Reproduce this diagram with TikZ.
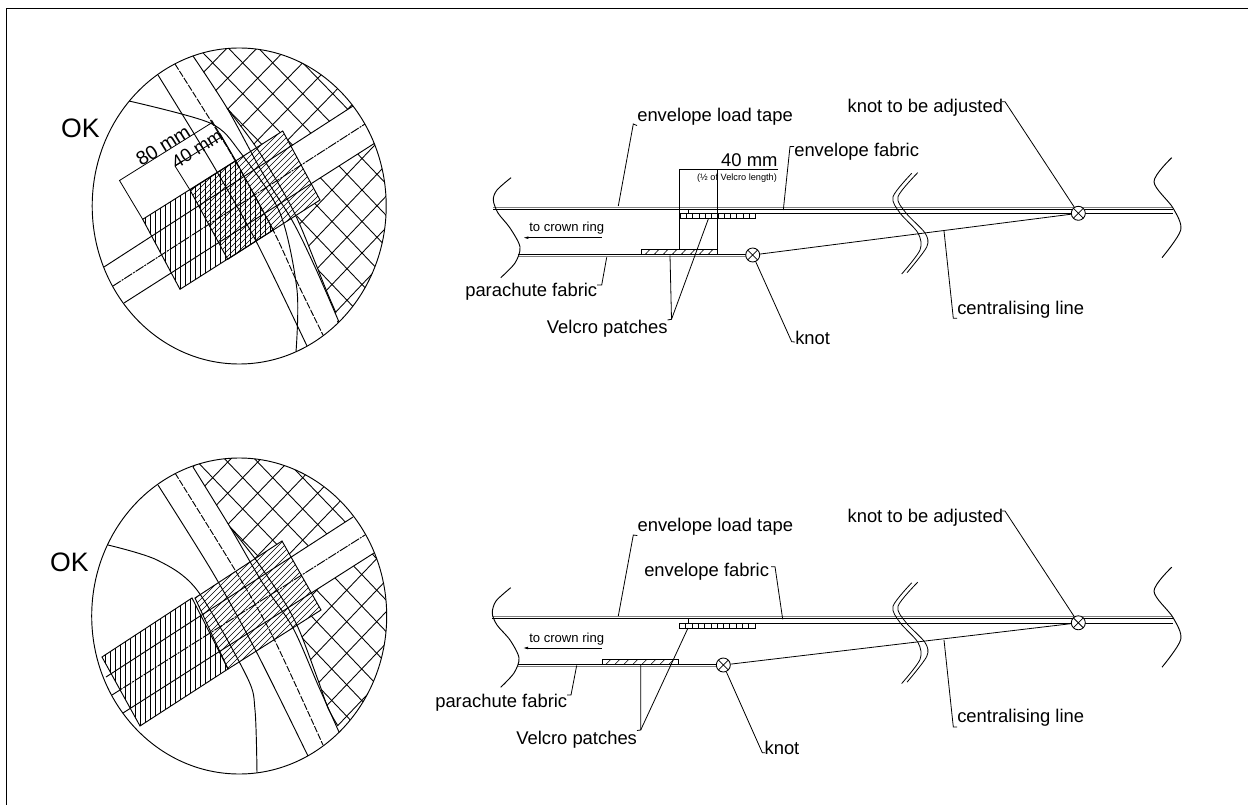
\documentclass[tikz,border=0pt]{standalone}
\usepackage{fontspec}
\setmainfont{Liberation Sans}
\usetikzlibrary{arrows.meta}

\tikzset{
  lbl/.style={font=\fontsize{13.8}{15}\selectfont, inner sep=0pt, anchor=west},
  smalllbl/.style={font=\fontsize{9.8}{11}\selectfont, inner sep=0pt, anchor=west},
  leader/.style={line width=0.6pt},
  tape/.style={line width=0.7pt},
  mesh/.style={line width=0.65pt},
  hatchline/.style={line width=0.45pt},
  knot/.style={circle, draw, line width=0.65pt, fill=white, minimum size=10.5pt, inner sep=0pt,
    path picture={\draw[line width=0.55pt] (path picture bounding box.north west) -- (path picture bounding box.south east)
      (path picture bounding box.north east) -- (path picture bounding box.south west);}},
  patch/.style={line width=0.7pt}
}

\begin{document}
\begin{tikzpicture}[x=0.75pt, y=-0.75pt]
    \useasboundingbox (0,0) rectangle (1248,805);
    % Frame
    \draw[line width=0.8pt] (6.5,805) -- (6.5,8.5) -- (1248,8.5);

    % Top detail circle
    \begin{scope}
        \clip (239.2,206) ellipse (147 and 158);
        % mesh above the band
        \begin{scope}
            \clip (193,50) -- (193,56) -- (227,108) -- (256,147) -- (270,160) -- (353,106) -- (420,60) -- (420,30) -- cycle;
            \foreach \k in {-14,...,14} {
                \draw[mesh] (257.7+30*\k-300,78.3-309) -- (257.7+30*\k+300,78.3+309);
                \draw[mesh] (257.7+30*\k-300,78.3+309) -- (257.7+30*\k+300,78.3-309);
            }
        \end{scope}
        % mesh below the band
        \begin{scope}
            \clip (420,115) -- (375,143) -- (290,197) -- (300,225) -- (315,262) -- (327,292) -- (336,313) -- (345,380) -- (430,380) -- cycle;
            \foreach \k in {-14,...,14} {
                \draw[mesh] (332+30*\k-300,190-315) -- (332+30*\k+300,190+315);
                \draw[mesh] (332+30*\k-300,190+315) -- (332+30*\k+300,190-315);
            }
        \end{scope}
        % upper patch covers the mesh
        \fill[white] (190,190) -- (282.7,131) -- (320,200) -- (227.7,259.3) -- cycle;
        % crossing band
        \draw[tape] (104,267) -- (353,106);
        \draw[tape, dash pattern=on 7pt off 0.8pt on 1.5pt off 0.8pt] (113,286) -- (365,124);
        \draw[tape] (124,303) -- (375,143);
        % load tape
        \draw[tape] plot[smooth] coordinates {(158,75) (213,165) (257,243) (307,346)};
        \draw[tape, dash pattern=on 5pt off 1.2pt] plot[smooth] coordinates {(175,64) (230,152) (273,230) (297,282) (323,335)};
        \draw[tape] plot[smooth] coordinates {(193,56) (227,108) (262,172) (293,222) (315,267) (339,322)};
        \draw[tape] plot[smooth] coordinates {(227,108) (256,147) (285,195) (300,225) (315,262) (327,292) (336,313)};
        % crown edge
        \draw[tape] plot[smooth] coordinates {(129,101) (210,123) (240,152) (280,213) (297,290) (296,352)};
    \end{scope}
    \draw[tape] (239.2,206) ellipse (147 and 158);
    % hatched patches
    \begin{scope}
        \clip (142.7,219.3) -- (235.7,160.7) -- (273.3,230) -- (180,289.3) -- cycle;
        \foreach \x in {140,145,...,276} \draw[hatchline] (\x,150) -- (\x,300);
    \end{scope}
    \draw[patch] (142.7,219.3) -- (235.7,160.7) -- (273.3,230) -- (180,289.3) -- cycle;
    \begin{scope}
        \clip (190,190) -- (282.7,131) -- (320,200) -- (227.7,259.3) -- cycle;
        \foreach \x in {276,282,...,426} \draw[hatchline] (\x,100) -- (\x-200,300);
    \end{scope}
    \draw[patch] (190,190) -- (282.7,131) -- (320,200) -- (227.7,259.3) -- cycle;
    % dimensions of the patches
    \draw[leader] (142.7,219.3) -- (119.5,180.5) -- (213,122);
    \draw[leader] (235.7,160.7) -- (211.5,120);
    \draw[leader] (190,190) -- (175,166) -- (220.5,137.5);
    \draw[leader] (235.7,160.7) -- (220,133.5);
    \node[lbl, font=\fontsize{14.6}{15}\selectfont, anchor=center, rotate=32] (eighty) at (163,145.5) {80 mm};
    \node[lbl, anchor=center, rotate=32] (forty) at (197,149) {40 mm};
    \node[font=\fontsize{20}{22}\selectfont, inner sep=0pt] (oktop) at (80.5,128) {OK};

    % Bottom detail circle
    \begin{scope}
        \clip (239.2,616) ellipse (147.5 and 158);
        \begin{scope}
            \clip (193,460) -- (193,467) -- (230,527) -- (256,560) -- (270,570) -- (353,517) -- (420,470) -- (420,440) -- cycle;
            \foreach \k in {-14,...,14} {
                \draw[mesh] (257.7+30*\k-300,493.3-312) -- (257.7+30*\k+300,493.3+312);
                \draw[mesh] (257.7+30*\k-300,493.3+312) -- (257.7+30*\k+300,493.3-312);
            }
        \end{scope}
        \begin{scope}
            \clip (420,525) -- (374,553) -- (290,607) -- (300,632) -- (318,680) -- (328,708) -- (338,726) -- (345,790) -- (430,790) -- cycle;
            \foreach \k in {-14,...,14} {
                \draw[mesh] (346.7+30*\k-300,621.7-315) -- (346.7+30*\k+300,621.7+315);
                \draw[mesh] (346.7+30*\k-300,621.7+315) -- (346.7+30*\k+300,621.7-315);
            }
        \end{scope}
        \fill[white] (195,598) -- (282,541) -- (321,610) -- (228,669) -- cycle;
        \draw[tape] (106,677) -- (353,517);
        \draw[tape, dash pattern=on 7pt off 0.8pt on 1.5pt off 0.8pt] (112,695) -- (365,535);
        \draw[tape] (123,713) -- (374,553);
        \draw[tape] plot[smooth] coordinates {(158,485) (213,573) (257,653) (308,756)};
        \draw[tape, dash pattern=on 5pt off 1.2pt] plot[smooth] coordinates {(175,473) (235,570) (273,637) (323,745)};
        \draw[tape] plot[smooth] coordinates {(193,467) (230,527) (262,582) (293,628) (318,685) (339,732)};
        \draw[tape] plot[smooth] coordinates {(230,527) (256,560) (285,603) (300,632) (318,680) (328,708) (338,726)};
        \draw[tape] plot[smooth] coordinates {(108,545) (157,560) (197,590) (247,677) (255,710) (257,773)};
    \end{scope}
    \draw[tape] (239.2,616) ellipse (147.5 and 158);
    \begin{scope}
        \clip (102,657) -- (192,598) -- (228,669) -- (140,726) -- cycle;
        \foreach \x in {100,105,...,232} \draw[hatchline] (\x,590) -- (\x,730);
    \end{scope}
    \draw[patch] (102,657) -- (192,598) -- (228,669) -- (140,726) -- cycle;
    \begin{scope}
        \clip (195,598) -- (282,541) -- (321,610) -- (228,669) -- cycle;
        \foreach \x in {278,284,...,428} \draw[hatchline] (\x,510) -- (\x-200,710);
    \end{scope}
    \draw[patch] (195,598) -- (282,541) -- (321,610) -- (228,669) -- cycle;
    \node[font=\fontsize{20}{22}\selectfont, inner sep=0pt] (okbottom) at (69.5,562.7) {OK};

    % Top section
    \draw[tape, gray] (493.3,207.3) -- (1173,207.3);
    \draw[tape] (493.3,209.3) -- (1173,209.3);
    \draw[tape] (688,209.3) -- (688,213.3) -- (1173,213.3);
    \draw[tape, gray] (518.3,256.3) -- (746.7,256.3);
    \draw[tape] (518.3,254.7) -- (746.7,254.7);
    \draw[tape] plot[smooth] coordinates {(511,177.7) (497,190) (493.3,200) (498,213) (510,228) (520,247) (515,263) (500.7,277.7)};
    \draw[tape] plot[smooth] coordinates {(1171.7,157.7) (1154,181.7) (1173,208) (1180.7,230) (1162,257.7)};
    \draw[leader] plot[smooth] coordinates {(911.7,173.3) (893,196.7) (900,213) (918,233) (920,250) (901.7,274)};
    \draw[leader] plot[smooth] coordinates {(917.7,172.7) (898,196.7) (906,213) (925,233) (926.7,247) (907,272.7)};
    % Velcro on the envelope
    \draw[patch, fill=white] (680,213.3) rectangle (755.7,218.3);
    \foreach \x in {686.3,692.6,...,750} \draw[hatchline] (\x,213.3) -- (\x,218.3);
    % Velcro on the parachute
    \draw[patch, fill=white] (641.7,249.3) rectangle (717.3,254.7);
    \foreach \x in {649,658,...,712} \draw[hatchline] (\x-4,254.7) -- (\x+1,249.3);
    % Knots
    \node[knot] (kfix) at (752.7,255) {};
    \node[knot] (kadj) at (1078.3,213.3) {};
    \draw[leader] (kfix) -- (kadj);
    % Dimension
    \draw[leader] (679.7,249.3) -- (679.7,169.3) -- (777.7,169.3);
    \draw[leader] (717.3,254.7) -- (717.3,169.3);
    \node[lbl, anchor=base east] (fortyd) at (777.7,167) {40 mm};
    \node[font=\fontsize{6.9}{8}\selectfont, inner sep=0pt] (halfd) at (737,177.7) {(½ of Velcro length)};
    % Labels
    \node[smalllbl] (crown) at (529,228) {to crown ring};
    \coordinate (crowntip) at (523,237.7);
    \coordinate (crownend) at (601.7,237.7);
    \draw[leader, -{Latex[length=4pt,width=2pt]}] (crownend) -- (crowntip);
    \node[lbl] (loadtape) at (637,116.7) {envelope load tape};
    \draw[leader] (618.3,206) -- (633.3,124) -- (loadtape.south west);
    \node[lbl] (fabric) at (794,151.7) {envelope fabric};
    \draw[leader] (783.3,210) -- (790,146.5) -- (fabric.north west |- 0,146.5);
    \node[lbl] (chute) at (465,291.7) {parachute fabric};
    \draw[leader] (606.7,257.3) -- (601.7,285) -- (597,285);
    \node[lbl] (velcro) at (546.7,329) {Velcro patches};
    \draw[leader] (670,255.5) -- (671.5,319.3) -- (667.5,320);
    \draw[leader] (708.3,219) -- (671.5,319.3);
    \node[lbl] (knotlbl) at (795,338) {knot};
    \draw[leader] (kfix) -- (791.7,341.7) -- (795,342);
    \node[lbl] (adjust) at (847.3,108) {knot to be adjusted};
    \draw[leader] (kadj) -- (1005,101.7) -- (1002,101.7);
    \node[lbl] (central) at (957,310) {centralising line};
    \draw[leader] (944,231) -- (953.3,318.3) -- (957,318.3);

    % Bottom section
    \draw[tape, gray] (492.3,616.7) -- (1173,616.7);
    \draw[tape] (492.3,618.7) -- (1173,618.7);
    \draw[tape] (688.3,618.7) -- (688.3,623) -- (1173,623);
    \draw[tape, gray] (518.3,666.3) -- (716.7,666.3);
    \draw[tape] (518.3,664.3) -- (716.7,664.3);
    \draw[tape] plot[smooth] coordinates {(510.7,587.7) (496,601) (492.3,613.3) (497,625) (510,640) (519,658) (514,673) (500.7,687.3)};
    \draw[tape] plot[smooth] coordinates {(1171.7,567.2) (1154,591.2) (1173,617.5) (1180.7,639.5) (1162,667.2)};
    \draw[leader] plot[smooth] coordinates {(911.7,582.8) (893,606.2) (900,622.5) (918,642.5) (920,659.5) (901.7,683.5)};
    \draw[leader] plot[smooth] coordinates {(917.7,582.2) (898,606.2) (906,622.5) (925,642.5) (926.7,656.5) (907,682.2)};
    \draw[patch, fill=white] (679.3,623) rectangle (755.7,628);
    \foreach \x in {685.6,691.9,...,750} \draw[hatchline] (\x,623) -- (\x,628);
    \draw[patch, fill=white] (602.7,659.3) rectangle (678.7,664.3);
    \foreach \x in {610,619,...,674} \draw[hatchline] (\x-4,664.3) -- (\x+1,659.3);
    \node[knot] (kfixb) at (723.3,665) {};
    \node[knot] (kadjb) at (1078.3,622.8) {};
    \draw[leader] (kfixb) -- (kadjb);
    \node[smalllbl] (crownb) at (529,639) {to crown ring};
    \coordinate (crowntipb) at (522.7,648);
    \coordinate (crownendb) at (601.7,648);
    \draw[leader, -{Latex[length=4pt,width=2pt]}] (crownendb) -- (crowntipb);
    \node[lbl] (loadtapeb) at (637.3,526.7) {envelope load tape};
    \draw[leader] (618.3,616) -- (633.3,535) -- (loadtapeb.south west);
    \node[lbl, anchor=east] (fabricb) at (769.3,571.7) {envelope fabric};
    \draw[leader] (782.7,619.3) -- (775,566.7) -- (771,566.7);
    \node[lbl] (chuteb) at (435,702.3) {parachute fabric};
    \draw[leader] (576.7,665.5) -- (571,695) -- (567,695);
    \node[lbl] (velcrob) at (516,740) {Velcro patches};
    \draw[leader] (640.7,665) -- (640.7,730) -- (637,730.5);
    \draw[leader] (688,628) -- (640.7,730);
    \node[lbl] (knotlblb) at (764.3,748.3) {knot};
    \draw[leader] (kfixb) -- (762.3,752.7) -- (765,752.7);
    \node[lbl] (adjustb) at (847.3,518) {knot to be adjusted};
    \draw[leader] (kadjb) -- (1005,511) -- (1002,511);
    \node[lbl] (centralb) at (957,718) {centralising line};
    \draw[leader] (944,640) -- (953.3,727) -- (957,727);
\end{tikzpicture}
\end{document}
